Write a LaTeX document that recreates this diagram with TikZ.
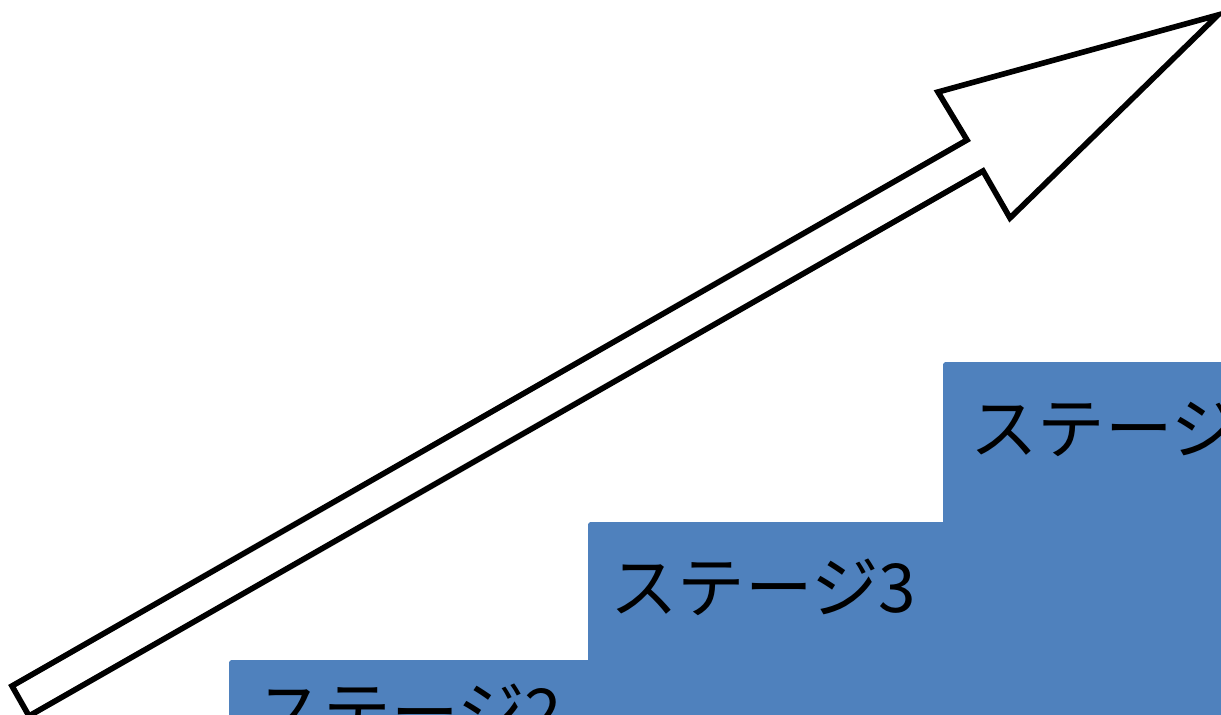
\documentclass[tikz,border=0pt]{standalone}
\usepackage{fontspec}
\newfontfamily\jpfont{Noto Sans CJK JP}
\usetikzlibrary{positioning}
\definecolor{stageBlue}{HTML}{4F81BD}
\definecolor{arrowBlack}{HTML}{000000}

\begin{document}
\begin{tikzpicture}[x=0.025cm, y=-0.025cm,
    stepbox/.style={fill=stageBlue, rounded corners=2pt},
    stagetext/.style={anchor=west, inner sep=0pt, font=\jpfont\fontsize{48}{58}\selectfont}]
    \useasboundingbox (0,0) rectangle (1221,715);
    \clip (0,0) rectangle (1221,715);
    % steps
    \fill[stepbox] (229,660) rectangle (1300,800);
    \fill[stepbox] (588,522) rectangle (1300,800);
    \fill[stepbox] (943,362) rectangle (1300,800);
    \node[stagetext] (s2) at (256,712) {ステージ2};
    \node[stagetext] (s3) at (610,587) {ステージ3};
    \node[stagetext] (s4) at (970,428) {ステージ4};
    % rising arrow
    \draw[arrowBlack, line width=4pt, line join=miter, fill=white]
      (12,686) -- (967,140) -- (938,92) -- (1218,15) -- (1010,218)
      -- (983,171) -- (29,716) -- cycle;
  \end{tikzpicture}
\end{document}
